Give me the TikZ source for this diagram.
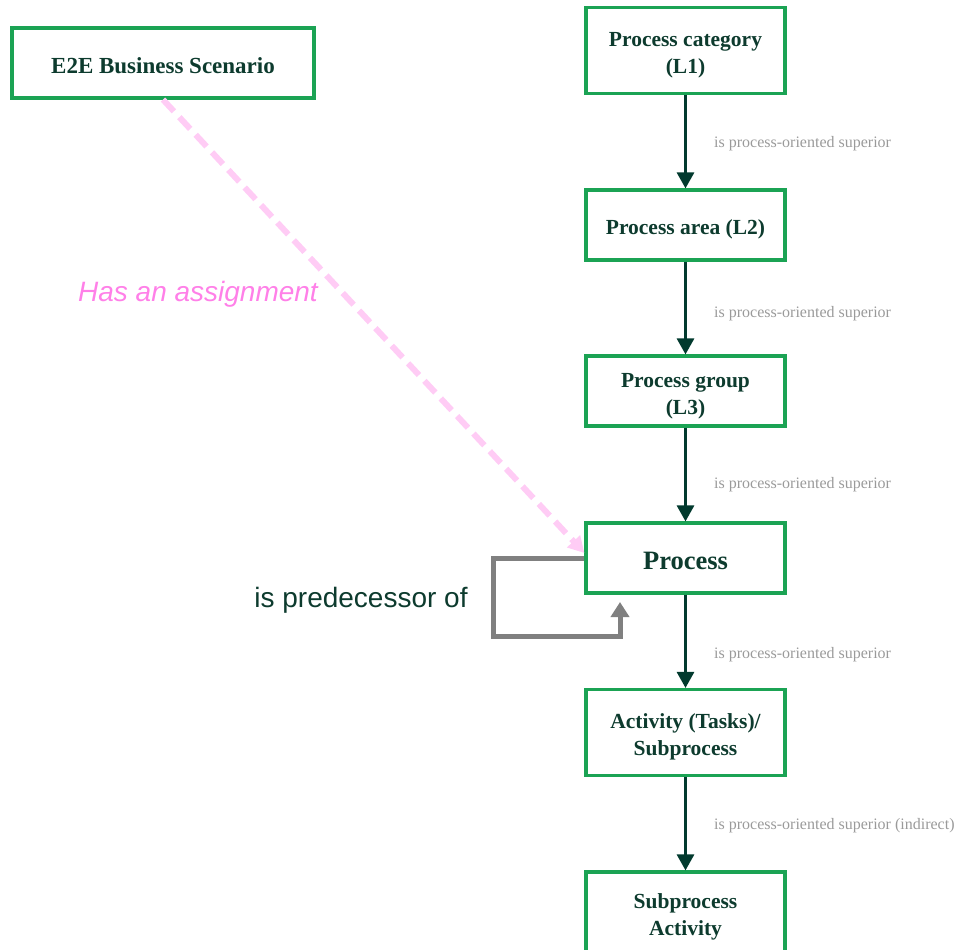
\documentclass[tikz,border=0pt]{standalone}
\usepackage{fontspec}
\setmainfont{Liberation Serif}
\setsansfont{Liberation Sans}
\usetikzlibrary{arrows.meta}
\definecolor{boxgreen}{HTML}{1BA354}
\definecolor{darktext}{HTML}{0D3B2E}
\definecolor{arrowc}{HTML}{023A2E}
\definecolor{labgrey}{HTML}{9A9A9A}
\definecolor{loopgrey}{HTML}{808080}
\definecolor{pinkline}{HTML}{FFCCF5}
\definecolor{pinktext}{HTML}{FF80E8}
\begin{document}
\begin{tikzpicture}[x=1pt,y=-1pt,
  box/.style={draw=boxgreen, line width=3.2pt, fill=white, minimum width=199pt,
    minimum height=70pt, inner sep=0pt},
  tallbox/.style={minimum height=86pt},
  boxtext/.style={inner sep=0pt, align=center, text=darktext,
    font=\bfseries\fontsize{21.5}{27}\selectfont},
  arr/.style={draw=arrowc, line width=3pt, -{Triangle[length=16pt,width=17pt]}},
  lbl/.style={text=labgrey, font=\rmfamily\fontsize{16}{18}\selectfont, anchor=west, inner sep=0pt},
  looparr/.style={draw=loopgrey, line width=5pt, -{Triangle[length=15pt,width=18pt]}},
  pinkarr/.style={draw=pinkline, line width=6pt, dash pattern=on 16pt off 8pt,
    -{Triangle[length=16pt,width=17pt]}}
]
\useasboundingbox (0,0) rectangle (959,950);

\node[box,tallbox] (l1) at (685.5,50.5) {};
\node[box] (l2) at (685.5,225) {};
\node[box] (l3) at (685.5,391) {};
\node[box] (proc) at (685.5,558) {};
\node[box,tallbox] (act) at (685.5,732.5) {};
\node[box,tallbox] (sub) at (685.5,915) {};
\node[box,minimum width=302pt] (e2e) at (163,63) {};

\node[boxtext] (l1t) at ([yshift=-5pt]l1.center) {Process category\\(L1)};
\node[boxtext] (l2t) at ([yshift=-4pt]l2.center) {Process area (L2)};
\node[boxtext] (l3t) at ([yshift=-5pt]l3.center) {Process group\\(L3)};
\node[boxtext,font=\bfseries\fontsize{26.5}{30}\selectfont] (proct) at ([yshift=-3pt]proc.center) {Process};
\node[boxtext] (actt) at ([yshift=-4pt]act.center) {Activity (Tasks)/\\Subprocess};
\node[boxtext] (subt) at ([yshift=-2pt]sub.center) {Subprocess\\Activity};
\node[boxtext,font=\bfseries\fontsize{23}{27}\selectfont] (e2et) at ([yshift=-3pt]e2e.center) {E2E Business Scenario};

\draw[arr] (l1) -- (l2);
\draw[arr] (l2) -- (l3);
\draw[arr] (l3) -- (proc);
\draw[arr] (proc) -- (act);
\draw[arr] (act) -- (sub);

\node[lbl] (t1) at (714,144) {is process-oriented superior};
\node[lbl] (t2) at (714,314) {is process-oriented superior};
\node[lbl] (t3) at (714,485) {is process-oriented superior};
\node[lbl] (t4) at (714,655) {is process-oriented superior};
\node[lbl] (t5) at (714,826) {is process-oriented superior (indirect)};

\coordinate (la) at (493,558);
\coordinate (lb) at (493,636);
\coordinate (lc) at (620,636);
\coordinate (ld) at (620,602);
\draw[looparr] (proc.west) -- (la) -- (lb) -- (lc) -- (ld);
\node[font=\sffamily\fontsize{28}{32}\selectfont, text=darktext, inner sep=0pt] (pred) at (361,600) {is predecessor of};

\coordinate (pt) at ([yshift=5pt]proc.west);
\draw[pinkarr] (e2e.south) -- (pt);
\node[font=\sffamily\itshape\fontsize{28}{32}\selectfont, text=pinktext, inner sep=0pt] (assign) at (198,294) {Has an assignment};
\end{tikzpicture}
\end{document}
